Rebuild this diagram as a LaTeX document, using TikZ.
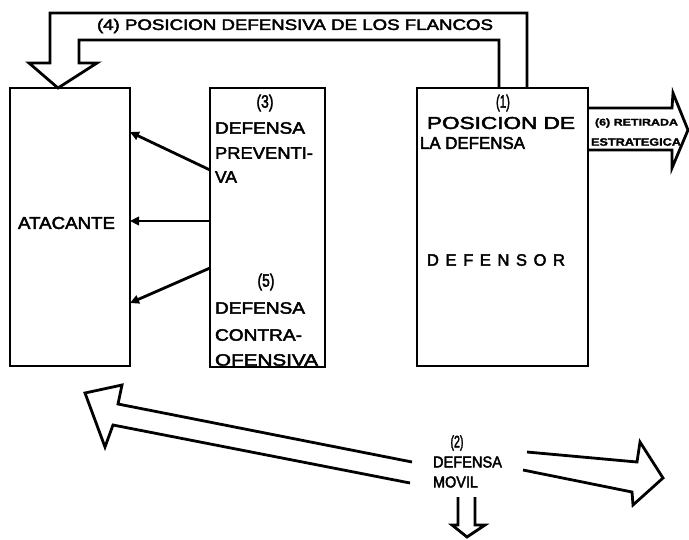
\documentclass[tikz,border=0pt]{standalone}
\usepackage{fontspec}
\setmainfont{Liberation Sans}[FakeBold=2.5]
\newfontfamily\boldscan{Liberation Sans Bold}[FakeBold=1.5]
\usetikzlibrary{arrows.meta}
\newcommand\fitto[3]{\resizebox{#1pt}{#2pt}{#3}}
\begin{document}
\begin{tikzpicture}[x=1pt,y=-1pt,
  box/.style={draw, line width=2.4pt, inner sep=0pt, outer sep=0pt},
  fat/.style={draw, line width=2.8pt, line join=miter},
  conn/.style={line width=2.8pt, -{Triangle[length=9pt,width=8.5pt]}},
  lbl/.style={inner sep=0pt, outer sep=0pt}]
\useasboundingbox[fill=white] (0,0) rectangle (689,539);

% boxes
\node[box, minimum width=120pt, minimum height=278pt] (atk) at (70,227) {};
\node[box, minimum width=115pt, minimum height=279pt] (mid) at (267.5,227.5) {};
\node[box, minimum width=171pt, minimum height=278pt] (def) at (502.5,227) {};

% texts in boxes
\node[lbl] (tatk) at (66.5,223) {\fitto{97}{12}{ATACANTE}};

\node[lbl] (t3) at (265,103) {\fitto{17}{13}{(3)}};
\node[lbl, anchor=west] (t3a) at (215,128) {\fitto{90}{11.5}{DEFENSA}};
\node[lbl, anchor=west] (t3b) at (215,153) {\fitto{98}{11.5}{PREVENTI-}};
\node[lbl, anchor=west] (t3c) at (215,177) {\fitto{22}{11.5}{VA}};

\node[lbl] (t5) at (266,282) {\fitto{17}{13}{(5)}};
\node[lbl, anchor=west] (t5a) at (215,308) {\fitto{90}{11.5}{DEFENSA}};
\node[lbl, anchor=west] (t5b) at (215,335) {\fitto{87}{11.5}{CONTRA-}};
\begin{scope}
\clip (211,340) rectangle (324,366);
\node[lbl, anchor=west] (t5c) at (215,360) {\fitto{103}{11.5}{OFENSIVA}};
\end{scope}

\node[lbl] (t1) at (503,103) {\fitto{14}{13}{(1)}};
\node[lbl] (t1a) at (501,123) {\fitto{148}{12}{POSICION DE}};
\node[lbl, anchor=west] (t1b) at (420,143) {\fitto{105}{12}{LA DEFENSA}};
\node[lbl, anchor=west] (t1c) at (427,260) {\fontsize{16.5}{16.5}\selectfont\makebox[138pt][s]{D\hfill E\hfill F\hfill E\hfill N\hfill S\hfill O\hfill R}};

% small arrows from middle box to attacker
\draw[conn] (mid.west |- 0,170) -- (atk.east |- 0,132);
\draw[conn] (mid.west |- 0,221) -- (atk.east |- 0,221);
\draw[conn] (mid.west |- 0,268) -- (atk.east |- 0,303);

% (4) flank arrow
\draw[fat] (def.north -| 527,0) -- (527,13) -- (50,13) -- (50,63) -- (29,63)
  -- (atk.north -| 58,0) -- (97,63) -- (79,63) -- (79,40) -- (499,40) -- (def.north -| 499,0);
\node[lbl] (t4) at (295,26) {\fitto{396}{11}{(4) POSICION DEFENSIVA DE LOS FLANCOS}};

% (6) retreat arrow
\draw[fat] (def.east |- 0,108) -- (672,108) -- (673,93) -- (688,130) -- (672,168) -- (672,150) -- (def.east |- 0,150);
\node[lbl, anchor=west] (t6a) at (595,123) {\fitto{83}{7}{\boldscan (6) RETIRADA}};
\node[lbl, anchor=west] (t6b) at (591,142) {\fitto{90}{7.5}{\boldscan ESTRATEGICA}};

% (2) mobile defence
\node[lbl] (t2) at (457,443) {\fitto{13}{12}{(2)}};
\node[lbl, anchor=west] (t2a) at (433,462) {\fitto{69}{11}{DEFENSA}};
\node[lbl, anchor=west] (t2b) at (433,482) {\fitto{45}{11}{MOVIL}};

\coordinate (la) at (412,462);
\coordinate (lb) at (410,483);
\draw[fat] (la) -- (118,404) -- (122,385) -- (85,393) -- (105,447) -- (113,425) -- (lb);
\coordinate (ra) at (527,452);
\coordinate (rb) at (523,470);
\draw[fat] (ra) -- (637,462) -- (640,442) -- (663,478) -- (633,505) -- (632,492) -- (rb);
\coordinate (da) at (458,497);
\coordinate (db) at (475,497);
\draw[fat] (da) -- (458,525) -- (452,525) -- (467,537) -- (485,525) -- (475,525) -- (db);
\end{tikzpicture}
\end{document}
